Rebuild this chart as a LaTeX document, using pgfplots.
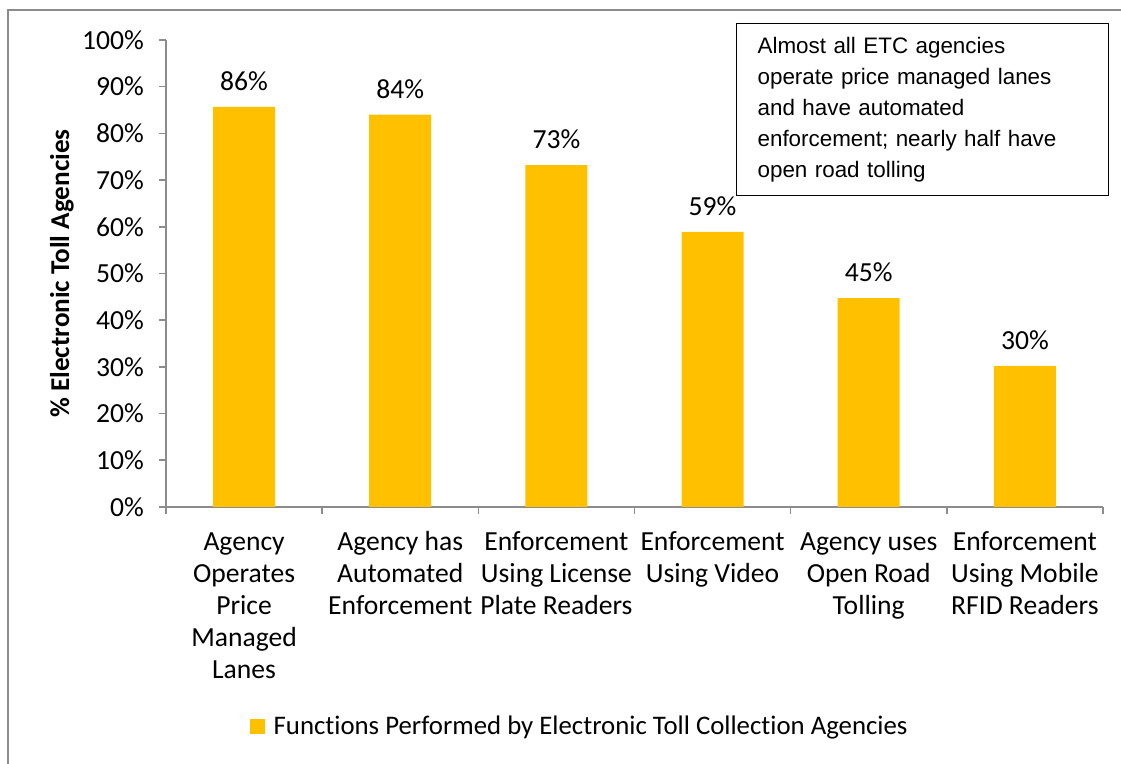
\documentclass[border=0pt]{standalone}
\usepackage{fontspec}
\setmainfont{Carlito}[Ligatures=NoCommon]
\newfontfamily\arialfont{Liberation Sans}
\usepackage{pgfplots}
\pgfplotsset{compat=1.18}
\definecolor{barc}{HTML}{FFC000}
\definecolor{axc}{HTML}{8C8C8C}
\begin{document}
\begin{tikzpicture}[x=1pt,y=1pt]
\begin{axis}[
  scale only axis, width=468.5pt, height=233.5pt,
  ymin=0, ymax=100, xmin=-0.5, xmax=5.5,
  axis x line*=bottom, axis y line*=left,
  axis line style={axc, line width=0.8pt},
  tick align=outside,
  tick style={axc, line width=0.8pt},
  ytick={0,10,...,100},
  major tick length=3.5pt,
  yticklabel={\pgfmathprintnumber{\tick}\%},
  /pgf/number format/assume math mode=true,
  yticklabel style={font=\fontsize{13.8}{15}\selectfont, xshift=-4pt},
  xtick={-0.5,0.5,1.5,2.5,3.5,4.5,5.5},
  xticklabels={},
  extra x ticks={0,1,2,3,4,5},
  extra x tick labels={\strut Agency\\Operates\\Price\\Managed\\Lanes, \strut Agency has\\Automated\\Enforcement, \strut Enforcement\\Using License\\Plate Readers, \strut Enforcement\\Using Video, \strut Agency uses\\Open Road\\Tolling, \strut Enforcement\\Using Mobile\\RFID Readers},
  extra x tick style={major tick length=0pt, xticklabel style={align=center, anchor=north, font=\fontsize{13.8}{16}\selectfont, yshift=-7pt}},
  ylabel={\% Electronic Toll Agencies},
  ylabel style={font=\bfseries\fontsize{13.6}{15}\selectfont, at={(axis description cs:-0.111,0.5)}, anchor=center},
  ybar, bar width=31pt,
  nodes near coords={\pgfmathprintnumber[fixed,precision=0]{\pgfplotspointmeta}\%},
  nodes near coords style={font=\fontsize{13.8}{15}\selectfont, text=black, anchor=south, yshift=4.5pt},
  legend style={at={(0.4425,-0.471)}, anchor=center, draw=none, font=\fontsize{13.4}{15}\selectfont},
  legend image code/.code={\fill[barc] (0pt,-3.75pt) rectangle (7.5pt,3.75pt); \path (10pt,0pt);},
]
\addplot[fill=barc, draw=none] coordinates {(0,85.7) (1,84.0) (2,73.2) (3,58.9) (4,44.7) (5,30.2)};
\addlegendentry{Functions Performed by Electronic Toll Collection Agencies}
\end{axis}
\node[draw=black, line width=0.6pt, anchor=north west, text width=165pt, inner xsep=10.5pt, minimum height=86pt, align=left, font=\arialfont\fontsize{11.2}{15.5}\selectfont] at (285,242) {Almost all ETC agencies\\operate price managed lanes\\and have automated\\enforcement; nearly half have\\open road tolling};
\draw[axc, line width=0.8pt] (-79,-200) -- (-79,248.5) -- (500,248.5);
\pgfresetboundingbox
\path[use as bounding box] (-83,-128.5) rectangle (477.5,253.5);
\end{tikzpicture}
\end{document}
